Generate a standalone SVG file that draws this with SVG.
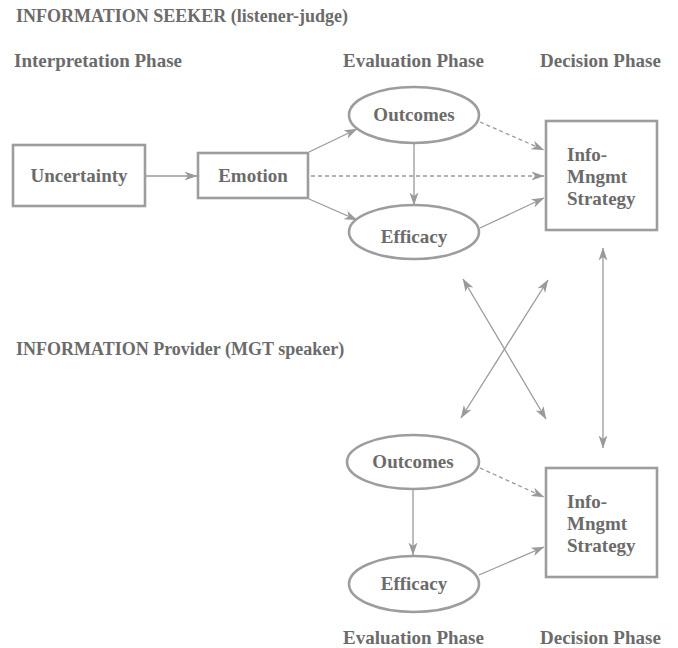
<svg xmlns="http://www.w3.org/2000/svg" width="678" height="648" viewBox="0 0 678 648">
  <style>
    text { font-family: "Liberation Serif", "Times New Roman", serif; font-weight: bold; fill: #6b6b6b; }
    .h { font-size: 19px; }
    .t { font-size: 18px; }
    .n { font-size: 19px; }
    .box { fill: #ffffff; stroke: #9d9d9d; stroke-width: 2.6; }
    .c { stroke: #9a9a9a; stroke-width: 1.3; fill: none; }
    .d { stroke-dasharray: 4 3; }
  </style>
  <defs>
    <marker id="ah" viewBox="0 0 13 10" refX="12.5" refY="5" markerWidth="13" markerHeight="10" markerUnits="userSpaceOnUse" orient="auto-start-reverse">
      <path d="M0,0.5 L13,5 L0,9.5 L3.5,5 Z" fill="#9a9a9a"/>
    </marker>
  </defs>
  <rect width="678" height="648" fill="#ffffff"/>

  <g id="labels">
    <text class="t" x="16" y="22">INFORMATION SEEKER (listener-judge)</text>
    <text class="h" x="14" y="67">Interpretation Phase</text>
    <text class="h" x="343" y="67">Evaluation Phase</text>
    <text class="h" x="540" y="67">Decision Phase</text>
    <text class="t" x="16" y="355">INFORMATION Provider (MGT speaker)</text>
    <text class="h" x="343" y="644">Evaluation Phase</text>
    <text class="h" x="540" y="644">Decision Phase</text>
  </g>

  <g id="connectors">
    <line class="c" x1="146" y1="176" x2="197" y2="176" marker-end="url(#ah)"/>
    <line class="c" x1="309" y1="152" x2="357" y2="129" marker-end="url(#ah)"/>
    <line class="c" x1="309" y1="199" x2="357" y2="220" marker-end="url(#ah)"/>
    <line class="c d" x1="311" y1="176" x2="544" y2="176" marker-end="url(#ah)"/>
    <line class="c" x1="414" y1="144" x2="414" y2="205" marker-end="url(#ah)"/>
    <line class="c d" x1="480" y1="122" x2="544" y2="150" marker-end="url(#ah)"/>
    <line class="c" x1="480" y1="228" x2="544" y2="198" marker-end="url(#ah)"/>
    <line class="c" x1="603" y1="248" x2="603" y2="448" marker-start="url(#ah)" marker-end="url(#ah)"/>
    <line class="c" x1="463" y1="279" x2="546" y2="419" marker-start="url(#ah)" marker-end="url(#ah)"/>
    <line class="c" x1="548" y1="280" x2="461" y2="418" marker-start="url(#ah)" marker-end="url(#ah)"/>
    <line class="c" x1="413" y1="490" x2="413" y2="555" marker-end="url(#ah)"/>
    <line class="c d" x1="480" y1="468" x2="544" y2="497" marker-end="url(#ah)"/>
    <line class="c" x1="479" y1="575" x2="544" y2="547" marker-end="url(#ah)"/>
  </g>

  <g id="uncertainty">
    <rect class="box" x="13" y="145" width="132" height="61"/>
    <text class="n" x="79" y="182" text-anchor="middle">Uncertainty</text>
  </g>
  <g id="emotion">
    <rect class="box" x="198" y="153" width="110" height="45"/>
    <text class="n" x="253" y="182" text-anchor="middle">Emotion</text>
  </g>
  <g id="seeker-outcomes">
    <ellipse class="box" cx="414" cy="115" rx="65" ry="28"/>
    <text class="n" x="414" y="121" text-anchor="middle">Outcomes</text>
  </g>
  <g id="seeker-efficacy">
    <ellipse class="box" cx="414" cy="232" rx="65" ry="27"/>
    <text class="n" x="414" y="243" text-anchor="middle">Efficacy</text>
  </g>
  <g id="seeker-strategy">
    <rect class="box" x="546" y="121" width="111" height="109"/>
    <text class="n" x="567" y="161">Info-</text>
    <text class="n" x="567" y="183">Mngmt</text>
    <text class="n" x="567" y="205">Strategy</text>
  </g>

  <g id="provider-outcomes">
    <ellipse class="box" cx="413" cy="462" rx="66" ry="27"/>
    <text class="n" x="413" y="468" text-anchor="middle">Outcomes</text>
  </g>
  <g id="provider-efficacy">
    <ellipse class="box" cx="414" cy="584" rx="65" ry="28"/>
    <text class="n" x="414" y="590" text-anchor="middle">Efficacy</text>
  </g>
  <g id="provider-strategy">
    <rect class="box" x="546" y="468" width="111" height="109"/>
    <text class="n" x="567" y="508">Info-</text>
    <text class="n" x="567" y="530">Mngmt</text>
    <text class="n" x="567" y="552">Strategy</text>
  </g>
</svg>
